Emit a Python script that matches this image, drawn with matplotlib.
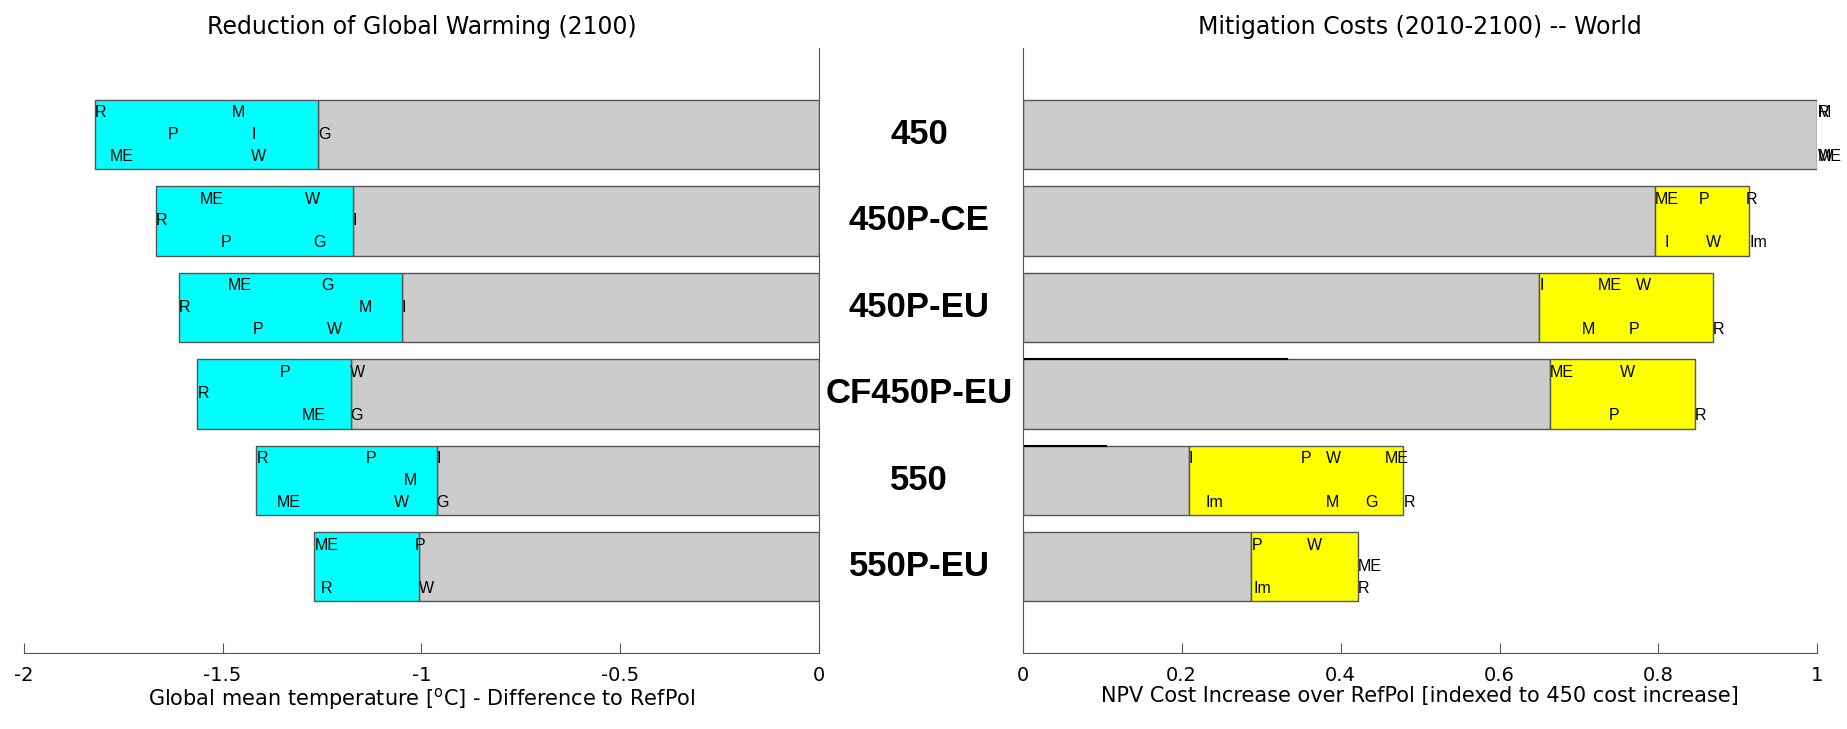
import matplotlib
matplotlib.use("Agg")
import matplotlib.pyplot as plt
import matplotlib.transforms as mtransforms

plt.rcParams['font.family'] = ['Liberation Sans', 'DejaVu Sans']

scenarios = ["450", "450P-CE", "450P-EU", "CF450P-EU", "550", "550P-EU"]

# warming reduction per model (degC), row 0 = top, 1 = middle, 2 = bottom
temp_models = [
    ["R", "M", "P", "I", "G", "ME", "W"],
    ["ME", "W", "R", "I", "P", "G"],
    ["ME", "G", "R", "M", "I", "P", "W"],
    ["P", "W", "R", "ME", "G"],
    ["R", "P", "I", "M", "ME", "W", "G"],
    ["ME", "P", "R", "W"],
]
temp_values = [
    [-1.820, -1.476, -1.637, -1.426, -1.259, -1.783, -1.428],
    [-1.558, -1.293, -1.668, -1.1725, -1.504, -1.272],
    [-1.487, -1.253, -1.609, -1.157, -1.049, -1.423, -1.238],
    [-1.355, -1.180, -1.563, -1.301, -1.178],
    [-1.415, -1.140, -0.962, -1.045, -1.364, -1.070, -0.962],
    [-1.269, -1.016, -1.253, -1.006],
]
temp_rows = [
    [0, 0, 1, 1, 1, 2, 2],
    [0, 0, 1, 1, 2, 2],
    [0, 0, 1, 1, 1, 2, 2],
    [0, 0, 1, 2, 2],
    [0, 0, 0, 1, 2, 2, 2],
    [0, 0, 2, 2],
]

# mitigation cost per model, indexed to 450
cost_models = [
    ["R", "M", "I", "ME", "W"],
    ["ME", "P", "R", "I", "W", "Im"],
    ["I", "ME", "W", "M", "P", "R"],
    ["ME", "W", "P", "R"],
    ["I", "P", "W", "ME", "Im", "M", "G", "R"],
    ["P", "W", "ME", "Im", "R"],
]
cost_values = [
    [1.0, 1.0, 1.0, 1.0, 1.0],
    [0.795, 0.851, 0.910, 0.807, 0.860, 0.9145],
    [0.650, 0.724, 0.772, 0.703, 0.762, 0.868],
    [0.6635, 0.751, 0.738, 0.846],
    [0.209, 0.3505, 0.382, 0.455, 0.230, 0.381, 0.431, 0.479],
    [0.2877, 0.3577, 0.4218, 0.2906, 0.4218],
]
cost_rows = [
    [0, 0, 0, 2, 2],
    [0, 0, 0, 2, 2, 2],
    [0, 0, 0, 2, 2, 2],
    [0, 0, 2, 2],
    [0, 0, 0, 0, 2, 2, 2, 2],
    [0, 0, 1, 2, 2],
]
cost_lines = [0, 0, 0, 0.333, 0.105, 0]

temp_ticks = [-2, -1.5, -1, -0.5, 0]
temp_ticklabels = ["-2", "-1.5", "-1", "-0.5", "0"]
cost_ticks = [0, 0.2, 0.4, 0.6, 0.8, 1]
cost_ticklabels = ["0", "0.2", "0.4", "0.6", "0.8", "1"]

edge = "#555555"
wide = ["DejaVu Sans"]  # reference axis texts are rendered wide
fig = plt.figure(figsize=(18.47, 7.29), dpi=100)
ax1 = fig.add_axes([0.01278, 0.1038, 0.4308, 0.8303])
ax2 = fig.add_axes([0.5537, 0.1038, 0.4303, 0.8303])

row_off = [-0.25, 0.0, 0.25]
for i in range(len(scenarios)):
    y = i + 1
    lo, hi = min(temp_values[i]), max(temp_values[i])
    ax1.barh(y, hi, left=0, height=0.8, color="#cccccc", edgecolor=edge, lw=1)
    ax1.barh(y, hi - lo, left=lo, height=0.8, color="#00ffff", edgecolor=edge, lw=1)
    for m, v, r in zip(temp_models[i], temp_values[i], temp_rows[i]):
        ax1.text(v, y + row_off[r], m, ha="left", va="center", fontsize=11.5)

    lo, hi = min(cost_values[i]), max(cost_values[i])
    ax2.barh(y, lo, left=0, height=0.8, color="#cccccc", edgecolor=edge, lw=1)
    if hi > lo:
        ax2.barh(y, hi - lo, left=lo, height=0.8, color="#ffff00", edgecolor=edge, lw=1)
    if cost_lines[i] > 0:
        ax2.plot([0, cost_lines[i]], [y - 0.4, y - 0.4], color="black", lw=1.5)
    for m, v, r in zip(cost_models[i], cost_values[i], cost_rows[i]):
        ax2.text(v, y + row_off[r], m, ha="left", va="center", fontsize=11.5)

trans = mtransforms.blended_transform_factory(fig.transFigure, ax1.transData)
for i, s in enumerate(scenarios):
    ax1.text(0.4977, i + 1, s, transform=trans, ha="center", va="center",
             fontsize=25, fontweight="bold")

for ax in (ax1, ax2):
    ax.set_ylim(7, 0)
    ax.set_yticks([])
    ax.spines["top"].set_visible(False)
    ax.tick_params(axis="x", direction="in", length=7, labelsize=14, pad=9,
                   color=edge)
    for sp in ax.spines.values():
        sp.set_color(edge)
    for lab in ax.get_xticklabels():
        lab.set_family(wide)

ax1.spines["left"].set_visible(False)
ax2.spines["right"].set_visible(False)

ax1.set_xlim(-2, 0)
ax1.set_xticks(temp_ticks)
ax1.set_xticklabels(temp_ticklabels, family=wide)
ax2.set_xlim(0, 1)
ax2.set_xticks(cost_ticks)
ax2.set_xticklabels(cost_ticklabels, family=wide)

ax1.set_title("Reduction of Global Warming (2100)", fontsize=17, pad=10, family=wide)
ax2.set_title("Mitigation Costs (2010-2100) -- World", fontsize=17, pad=10, family=wide)
ax1.set_xlabel(r"Global mean temperature [$^{\mathrm{o}}$C] - Difference to RefPol",
               fontsize=15, labelpad=1, family=wide)
ax2.set_xlabel("NPV Cost Increase over RefPol [indexed to 450 cost increase]",
               fontsize=15, labelpad=1, family=wide)

fig.savefig("out.png", dpi=100)
